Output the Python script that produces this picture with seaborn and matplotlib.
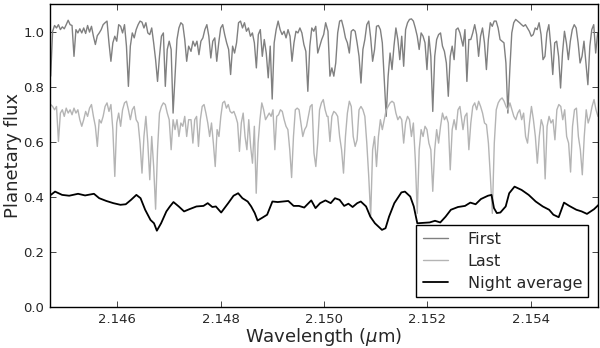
import numpy as np
import pandas as pd
import matplotlib
matplotlib.use("Agg")
from matplotlib import pyplot as plt
from matplotlib.ticker import FormatStrFormatter
import seaborn as sns

# wavelength ranges (micron) of the four stretches each spectrum was read in
first_edges = [(2.144718, 2.147384), (2.147430, 2.150032), (2.150077, 2.152627), (2.152686, 2.155288)]
last_edges = [(2.144718, 2.147384), (2.147430, 2.150058), (2.150077, 2.152627), (2.152686, 2.155294)]

first_a = [0.838, 1.001, 1.022, 1.013, 1.025, 1.007, 1.017, 1.010, 1.025, 1.041,
           1.025, 1.022, 0.910, 1.007, 0.995, 1.010, 0.995, 1.013, 0.993, 1.022,
           0.998, 1.019, 0.983, 0.953, 0.985, 0.995, 1.007, 1.025, 1.032, 1.038,
           0.959, 0.892, 0.959, 0.983, 0.965, 1.025, 1.019, 0.995, 1.025, 0.947,
           0.801, 0.947, 0.995, 0.977, 1.007, 1.025, 1.038, 1.034, 1.013, 1.032,
           0.995, 0.989, 1.013, 0.959, 0.898, 0.819, 0.910, 0.983, 0.995, 0.801,
           0.935, 0.965, 0.935, 0.704, 0.838, 0.971, 1.013, 1.032, 1.025, 0.971,
           0.892, 0.947]
first_b = [0.928, 0.965, 0.947, 0.965, 0.916, 0.965, 0.977, 1.007, 1.025, 0.983,
           0.904, 0.965, 0.977, 0.892, 0.959, 1.013, 1.025, 0.989, 0.959, 0.935,
           0.844, 0.947, 0.922, 0.959, 1.032, 1.038, 1.013, 1.032, 1.001, 1.013,
           0.983, 0.995, 0.959, 0.868, 0.989, 1.007, 0.910, 0.971, 0.922, 0.832,
           0.947, 0.755, 0.959, 1.007, 1.038, 1.007, 0.989, 1.001, 0.977, 1.007,
           0.983, 0.892, 0.959, 1.001, 0.995, 1.013, 0.995, 0.953, 0.928, 0.783,
           0.947, 1.013, 1.001, 1.019, 0.922, 0.947, 0.971, 0.989, 1.032]
first_c = [1.001, 0.838, 0.868, 0.838, 0.886, 0.995, 1.038, 1.041, 1.013, 0.977,
           0.959, 0.922, 1.001, 1.007, 1.001, 0.959, 0.910, 0.813, 0.935, 0.971,
           1.025, 1.038, 0.977, 0.892, 0.935, 1.019, 1.022, 1.007, 0.959, 0.825,
           0.692, 0.838, 0.922, 0.862, 0.947, 1.013, 0.971, 0.898, 0.983, 0.874,
           1.007, 1.032, 1.044, 1.046, 1.038, 1.013, 0.983, 0.935, 0.995, 0.983,
           0.959, 0.862, 0.983, 0.910, 0.710, 0.910, 0.971, 0.989, 0.995, 0.947,
           0.928, 0.886, 0.765, 0.910, 0.947, 0.898, 1.007, 1.013, 0.995]
first_d = [0.947, 1.007, 0.819, 0.971, 0.971, 0.995, 1.025, 0.989, 0.910, 0.983,
           1.013, 0.959, 0.862, 0.971, 1.032, 1.019, 1.038, 1.038, 1.013, 0.971,
           0.965, 0.959, 0.886, 0.704, 0.862, 0.995, 1.032, 1.044, 1.038, 1.032,
           1.025, 1.019, 1.025, 1.013, 1.001, 0.983, 0.989, 1.013, 1.007, 1.032,
           0.989, 0.898, 0.910, 0.995, 1.025, 0.947, 0.844, 0.959, 0.965, 0.910,
           0.795, 0.922, 1.001, 0.959, 0.898, 0.965, 1.007, 1.025, 1.013, 0.959,
           0.886, 0.910, 0.965, 0.886, 0.807, 0.947, 1.007, 1.025, 0.922, 0.995]

last_a = [0.735, 0.728, 0.716, 0.728, 0.601, 0.704, 0.716, 0.692, 0.722, 0.704,
          0.716, 0.698, 0.722, 0.704, 0.716, 0.680, 0.656, 0.680, 0.710, 0.692,
          0.722, 0.735, 0.692, 0.656, 0.583, 0.680, 0.668, 0.692, 0.728, 0.741,
          0.710, 0.735, 0.644, 0.474, 0.668, 0.704, 0.656, 0.716, 0.741, 0.747,
          0.716, 0.680, 0.716, 0.728, 0.680, 0.668, 0.595, 0.486, 0.619, 0.692,
          0.595, 0.462, 0.619, 0.510, 0.355, 0.571, 0.704, 0.728, 0.741, 0.735,
          0.704, 0.680, 0.571, 0.680, 0.644, 0.680, 0.619, 0.668, 0.656, 0.692,
          0.619, 0.680]
last_b = [0.680, 0.595, 0.680, 0.692, 0.583, 0.680, 0.728, 0.735, 0.704, 0.668,
          0.619, 0.668, 0.595, 0.510, 0.644, 0.619, 0.692, 0.741, 0.747, 0.722,
          0.735, 0.710, 0.704, 0.710, 0.692, 0.668, 0.565, 0.668, 0.704, 0.619,
          0.571, 0.680, 0.583, 0.522, 0.656, 0.413, 0.595, 0.680, 0.741, 0.716,
          0.680, 0.692, 0.704, 0.692, 0.716, 0.571, 0.692, 0.698, 0.716, 0.710,
          0.680, 0.656, 0.644, 0.571, 0.470, 0.619, 0.716, 0.722, 0.716, 0.668,
          0.619, 0.644, 0.656, 0.692, 0.728, 0.735, 0.559, 0.510, 0.595, 0.716,
          0.741, 0.753, 0.716, 0.692]
last_c = [0.692, 0.601, 0.692, 0.710, 0.704, 0.692, 0.619, 0.571, 0.486, 0.619,
          0.704, 0.747, 0.728, 0.619, 0.583, 0.607, 0.716, 0.728, 0.716, 0.692,
          0.595, 0.474, 0.330, 0.571, 0.619, 0.510, 0.619, 0.680, 0.644, 0.680,
          0.716, 0.728, 0.741, 0.747, 0.741, 0.704, 0.680, 0.692, 0.680, 0.595,
          0.668, 0.692, 0.680, 0.619, 0.668, 0.535, 0.340, 0.571, 0.644, 0.619,
          0.656, 0.644, 0.595, 0.571, 0.420, 0.571, 0.644, 0.595, 0.656, 0.704,
          0.680, 0.692, 0.668, 0.498, 0.644, 0.680, 0.644, 0.716, 0.728]
last_d = [0.644, 0.692, 0.704, 0.571, 0.668, 0.728, 0.741, 0.716, 0.747, 0.728,
          0.704, 0.668, 0.662, 0.595, 0.474, 0.340, 0.595, 0.716, 0.741, 0.753,
          0.759, 0.747, 0.728, 0.716, 0.741, 0.716, 0.692, 0.680, 0.704, 0.716,
          0.680, 0.704, 0.619, 0.595, 0.668, 0.728, 0.680, 0.619, 0.522, 0.619,
          0.680, 0.656, 0.465, 0.656, 0.692, 0.668, 0.680, 0.607, 0.716, 0.735,
          0.728, 0.680, 0.716, 0.619, 0.595, 0.490, 0.656, 0.716, 0.722, 0.619,
          0.571, 0.480, 0.619, 0.716, 0.668, 0.692, 0.728, 0.753, 0.716, 0.692]

night_wl = [2.144721, 2.144803, 2.144939, 2.145076, 2.145247, 2.145383, 2.145554, 2.145656,
            2.145793, 2.145929, 2.146066, 2.146169, 2.146271, 2.146374, 2.146455, 2.146544,
            2.146647, 2.146715, 2.146770, 2.146852, 2.146954, 2.147022, 2.147091, 2.147193,
            2.147296, 2.147398, 2.147535, 2.147671, 2.147753, 2.147842, 2.147910, 2.148013,
            2.148149, 2.148252, 2.148341, 2.148423, 2.148525, 2.148593, 2.148662, 2.148716,
            2.148798, 2.148901, 2.149003, 2.149106, 2.149208, 2.149310, 2.149413, 2.149515,
            2.149618, 2.149754, 2.149836, 2.149925, 2.150028, 2.150130, 2.150212, 2.150301,
            2.150390, 2.150472, 2.150553, 2.150642, 2.150711, 2.150813, 2.150895, 2.150984,
            2.151120, 2.151189, 2.151257, 2.151359, 2.151496, 2.151564, 2.151667, 2.151735,
            2.151803, 2.152042, 2.152145, 2.152247, 2.152350, 2.152452, 2.152589, 2.152725,
            2.152828, 2.152930, 2.153033, 2.153169, 2.153237, 2.153285, 2.153340, 2.153408,
            2.153511, 2.153579, 2.153682, 2.153818, 2.153955, 2.154091, 2.154228, 2.154351,
            2.154433, 2.154535, 2.154638, 2.154740, 2.154877, 2.154979, 2.155082, 2.155218,
            2.155307]
night_flux = [0.407, 0.419, 0.407, 0.404, 0.411, 0.405, 0.411, 0.395,
              0.385, 0.377, 0.371, 0.373, 0.389, 0.407, 0.395, 0.353,
              0.316, 0.304, 0.277, 0.304, 0.347, 0.365, 0.381, 0.365,
              0.347, 0.355, 0.365, 0.367, 0.377, 0.363, 0.365, 0.343,
              0.377, 0.404, 0.413, 0.395, 0.383, 0.365, 0.341, 0.314,
              0.323, 0.335, 0.383, 0.381, 0.383, 0.385, 0.367, 0.367,
              0.361, 0.387, 0.359, 0.377, 0.387, 0.377, 0.395, 0.389,
              0.367, 0.375, 0.363, 0.377, 0.383, 0.365, 0.328, 0.304,
              0.280, 0.286, 0.328, 0.377, 0.416, 0.419, 0.401, 0.365,
              0.304, 0.307, 0.313, 0.307, 0.328, 0.353, 0.363, 0.367,
              0.379, 0.373, 0.392, 0.404, 0.407, 0.359, 0.341, 0.343,
              0.365, 0.413, 0.437, 0.425, 0.407, 0.383, 0.365, 0.353,
              0.335, 0.326, 0.379, 0.367, 0.353, 0.347, 0.338, 0.355,
              0.371]


def stitch(edges, parts):
    wl = np.concatenate([np.linspace(lo, hi, len(p)) for (lo, hi), p in zip(edges, parts)])
    return wl, np.concatenate(parts)


first_wl, first_flux = stitch(first_edges, [first_a, first_b, first_c, first_d])
last_wl, last_flux = stitch(last_edges, [last_a, last_b, last_c, last_d])

df = pd.concat([
    pd.DataFrame({"wl": first_wl, "flux": first_flux, "spec": "First"}),
    pd.DataFrame({"wl": last_wl, "flux": last_flux, "spec": "Last"}),
    pd.DataFrame({"wl": night_wl, "flux": night_flux, "spec": "Night average"}),
])

sns.set_style("ticks", {"xtick.direction": "in", "ytick.direction": "in"})
plt.rcParams["font.family"] = ["DejaVu Sans"]

fig = plt.figure(figsize=(6, 3.48), dpi=100)
ax = fig.add_axes([50 / 600, 41 / 348, 548 / 600, 303 / 348])

colors = {"First": "#808080", "Last": "#b4b4b4", "Night average": "black"}
widths = {"First": 1.0, "Last": 1.0, "Night average": 1.3}
for name in ["First", "Last", "Night average"]:
    sub = df[df["spec"] == name]
    sns.lineplot(data=sub, x="wl", y="flux", color=colors[name], linewidth=widths[name],
                 label=name, estimator=None, sort=False, ax=ax)

ax.set_xlim(2.144705, 2.155295)
ax.set_ylim(0, 1.1)
ax.set_xticks([2.146, 2.148, 2.150, 2.152, 2.154])
ax.set_yticks([0.0, 0.2, 0.4, 0.6, 0.8, 1.0])
ax.xaxis.set_major_formatter(FormatStrFormatter("%.3f"))
ax.yaxis.set_major_formatter(FormatStrFormatter("%.1f"))
ax.tick_params(direction="in", top=True, right=True, length=4, width=0.6,
               labelsize=9.5, pad=4)
for s in ax.spines.values():
    s.set_linewidth(1.0)
    s.set_color("black")
ax.set_xlabel(r"Wavelength ($\mu$m)", fontsize=13, labelpad=0)
ax.set_ylabel("Planetary flux", fontsize=13, labelpad=1)

leg = ax.legend(loc="lower right", fontsize=11.5, fancybox=False, framealpha=1,
                edgecolor="black", handlelength=1.6, handletextpad=1.2,
                borderaxespad=0.6, labelspacing=0.45)
leg.get_frame().set_linewidth(1.0)

fig.savefig("out.png", dpi=100)
